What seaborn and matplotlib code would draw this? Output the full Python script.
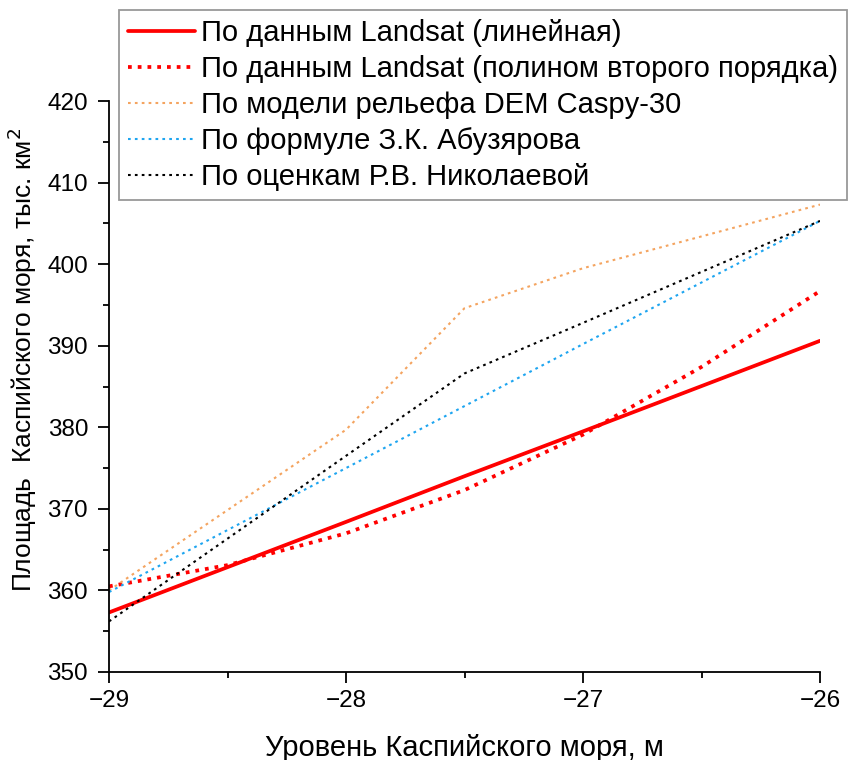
import matplotlib
matplotlib.use("Agg")
import matplotlib.pyplot as plt
import seaborn as sns
import pandas as pd
from matplotlib.ticker import MultipleLocator

sns.set_theme(style="white")
plt.rcParams['font.family'] = ['Liberation Sans', 'DejaVu Sans']
plt.rcParams['text.color'] = 'black'
plt.rcParams['axes.labelcolor'] = 'black'

# ---- data ----
levels = [-29, -28, -27.5, -27, -26]
landsat_linear = [357.3, 368.4, 374.0, 379.5, 390.6]

levels_poly = [-29, -28.5, -28, -27.5, -27, -26.5, -26]
landsat_poly = [360.5, 363.1, 367.0, 372.3, 379.1, 387.4, 396.7]

dem_caspy = [360.0, 379.7, 394.6, 399.5, 407.3]
abuzyarov = [359.8, 375.0, 382.6, 390.2, 405.3]
nikolaeva = [356.2, 376.5, 386.6, 392.8, 405.3]

labels = [
    "По данным Landsat (линейная)",
    "По данным Landsat (полином второго порядка)",
    "По модели рельефа DEM Caspy-30",
    "По формуле З.К. Абузярова",
    "По оценкам Р.В. Николаевой",
]

fig = plt.figure(figsize=(8.53, 7.60), dpi=100)
ax = fig.add_axes([109/853, 88/760, (820-109)/853, (672-101)/760])

series = [
    (levels, landsat_linear, labels[0], "#FF0000", 2.7, "-"),
    (levels_poly, landsat_poly, labels[1], "#FF0000", 2.7, (0, (1, 1.6))),
    (levels, dem_caspy, labels[2], "#F4A460", 1.5, (0, (1.3, 2.0))),
    (levels, abuzyarov, labels[3], "#1EA5F0", 1.5, (0, (1.3, 2.0))),
    (levels, nikolaeva, labels[4], "#000000", 1.5, (0, (1.3, 2.0))),
]

for xs, ys, lab, col, lw, ls in series:
    df = pd.DataFrame({"x": xs, "y": ys})
    sns.lineplot(data=df, x="x", y="y", ax=ax, color=col, linewidth=lw,
                 linestyle=ls, label=lab, sort=False)

ax.set_xlim(-29, -26)
ax.set_ylim(350, 420)
ax.xaxis.set_major_locator(MultipleLocator(1))
ax.xaxis.set_minor_locator(MultipleLocator(0.5))
ax.yaxis.set_major_locator(MultipleLocator(10))
ax.yaxis.set_minor_locator(MultipleLocator(5))

for s in ["top", "right"]:
    ax.spines[s].set_visible(False)
for s in ["left", "bottom"]:
    ax.spines[s].set_color("black")
    ax.spines[s].set_linewidth(1.3)

ax.tick_params(which="major", direction="out", length=8, width=1.3,
               labelsize=17.5, colors="black", bottom=True, left=True)
ax.tick_params(axis="y", which="major", pad=7)
ax.tick_params(axis="x", which="major", pad=5)
ax.tick_params(which="minor", direction="out", length=4.5, width=1.3,
               colors="black", bottom=True, left=True)

ax.set_xlabel("Уровень Каспийского моря, м", fontsize=21)
ax.xaxis.set_label_coords(0.5, -0.108)
ax.set_ylabel("Площадь  Каспийского моря, тыс. км$^2$", fontsize=19)
ax.yaxis.set_label_coords(-0.098, 0.546)

leg = ax.legend(loc="upper left", bbox_to_anchor=(119/853, 750/760),
                bbox_transform=fig.transFigure, fontsize=21,
                frameon=True, fancybox=False, framealpha=1,
                edgecolor="#999999", borderpad=0.3, handlelength=2.3,
                handletextpad=0.22, labelspacing=0.28, borderaxespad=0)
leg.get_frame().set_linewidth(1.3)
for t in leg.get_texts():
    t.set_color("black")

fig.savefig("out.png", dpi=100)
